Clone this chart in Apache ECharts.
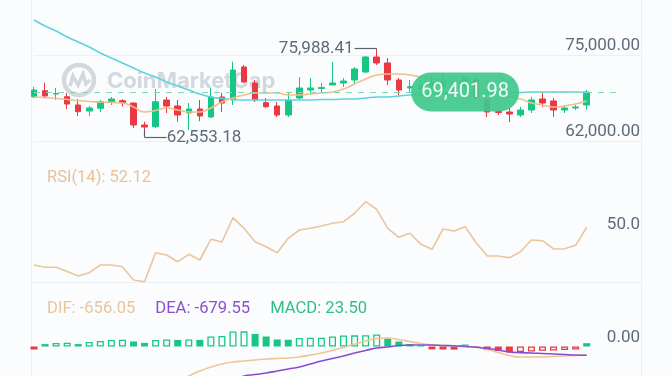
<!DOCTYPE html>
<html>
<head>
<meta charset="utf-8">
<script src="https://cdn.jsdelivr.net/npm/echarts@6/dist/echarts.min.js"></script>
<style>
  html, body { margin: 0; padding: 0; background: #fbfcfd; }
  #main { width: 672px; height: 376px; }
</style>
</head>
<body>
<div id="main"></div>
<script>
// candles (open, close, low, high)
var opens  = [68697, 69603, 69105, 68697, 67442, 66535, 66943, 67942, 68092, 67744, 64419, 64162, 68198, 67291, 66233, 66837, 65628, 68651, 68198, 73186, 70767, 67790, 67291, 65930, 68500, 69709, 69930, 70465, 70767, 71221, 72430, 74698, 73791, 71221, 70012, 69860, 70163, 70012, 70465, 70314, 71221, 68198, 66460, 66384, 65930, 66686, 68349, 68047, 66686, 66989, 67442];
var closes = [69709, 68802, 69180, 67593, 66430, 66989, 67942, 68349, 67790, 64419, 64116, 67942, 67291, 65930, 66837, 65779, 68651, 67744, 72733, 70919, 68198, 67185, 65930, 68198, 70012, 70012, 70090, 70767, 71070, 72884, 74698, 73791, 71221, 69709, 70208, 70465, 70767, 71221, 70919, 71523, 68651, 66384, 66310, 66082, 66686, 68198, 67744, 66686, 66989, 67140, 69401.98];
var lows   = [68500, 68455, 68198, 66837, 65779, 65779, 66384, 67442, 67185, 63965, 63660, 63965, 66233, 64918, 63663, 65000, 65477, 66384, 67442, 70767, 67895, 66989, 65628, 65628, 68198, 68954, 69256, 70465, 70163, 70767, 72279, 73488, 70465, 68954, 69256, 69256, 69407, 69256, 69558, 69860, 68349, 65628, 65930, 64872, 65628, 66233, 67140, 65628, 66233, 66686, 66686];
var highs  = [70163, 70813, 70012, 69256, 68349, 67291, 68198, 68651, 68349, 67800, 64918, 69860, 68651, 68198, 67744, 68198, 70012, 69256, 73987, 73488, 71221, 68500, 67895, 69407, 71674, 71523, 70767, 73942, 71523, 73186, 74849, 75988.41, 74547, 71523, 71221, 71221, 71826, 72279, 71674, 71826, 71523, 68500, 66989, 66989, 67140, 68651, 69256, 68500, 67442, 67442, 69709];

// moving averages
var maFast = [68651, 68576, 68425, 68273, 68122, 67971, 67895, 67820, 67744, 67140, 66384, 66611, 66989, 66686, 66384, 66384, 66989, 67895, 68500, 68954, 69256, 69256, 69256, 68954, 68954, 69105, 69256, 69407, 69860, 70616, 71372, 71977, 72128, 72128, 71977, 71674, 71372, 71070, 70919, 70616, 70163, 69558, 68954, 68651, 68349, 67744, 67442, 67140, 67291, 67593, 68047];
var maSlow = [80291, 79384, 78628, 77721, 76965, 76209, 75302, 74547, 73791, 73035, 72279, 71674, 70919, 70314, 69709, 69105, 68651, 68425, 68273, 68198, 68198, 68198, 68198, 68198, 68198, 68198, 68273, 68273, 68349, 68349, 68500, 68651, 68651, 68802, 68954, 68954, 69105, 69105, 69180, 69180, 69256, 69256, 69331, 69331, 69331, 69407, 69407, 69407, 69407, 69407, 69331];

// RSI(14)
var rsi = [38.15, 37.3, 37.3, 35.74, 34.07, 35.3, 38.15, 38.15, 37.52, 32.59, 31.96, 42.7, 41.85, 39.37, 42.11, 40.0, 47.67, 46.67, 55.67, 51.74, 46.78, 44.93, 42.7, 48.04, 51.11, 51.74, 52.59, 53.59, 54.19, 57.3, 61.59, 58.78, 51.74, 48.41, 49.89, 45.81, 43.96, 51.48, 50.74, 52.33, 46.41, 41.48, 41.48, 40.85, 43.07, 47.41, 47.15, 44.07, 44.19, 45.44, 52.12];

// MACD
var dif = [-5674, -5520, -5365, -5211, -5056, -4825, -4593, -4362, -4130, -3899, -3667, -3435, -3127, -2741, -2277, -1891, -1583, -1351, -1197, -1120, -1042, -965, -926, -888, -811, -656, -502, -309, -77, 193, 425, 618, 656, 540, 386, 232, 116, 77, 39, 0, -39, -232, -463, -695, -811, -811, -811, -772, -733, -695, -656.05];
var dea = [-7218, -7064, -6909, -6755, -6523, -6292, -6060, -5829, -5597, -5365, -5056, -4748, -4439, -4130, -3821, -3513, -3204, -2895, -2586, -2277, -2162, -2046, -1891, -1737, -1583, -1351, -1119, -926, -733, -502, -309, -116, -39, 77, 116, 116, 116, 77, 62, 0, -62, -154, -270, -425, -479, -502, -540, -579, -618, -656, -679.55];
var hist = [-21, 17, 25, 26, 17, 32, 39, 46, 47, 35, 25, 46, 49, 46, 49, 46, 70, 74, 105, 106, 88, 70, 49, 47, 60, 61, 62, 70, 77, 78, 79, 84, 56, 35, 17, 7, -20, -21, -22, 14, -5, -25, -32, -42, -39, -35, -30, -28, -25, -21, 23.5];

var lastPrice = 69401.98;
var highMark = 75988.41;
var lowMark = 62553.18;
var priceTicks = [62000, 75000];

var UP = '#16c784', DOWN = '#ea3943', BG = '#fbfcfd', GRID = '#eceff3', AXIS = '#5f6b7a';
var FONT = 'Roboto, sans-serif';

var categories = [];
for (var i = 0; i < opens.length + 5; i++) categories.push(String(i + 1));

var candles = opens.map(function (o, i) { return [o, closes[i], lows[i], highs[i]]; });
var hiIdx = highs.indexOf(highMark);
var loIdx = lows.indexOf(Math.min.apply(null, lows));

function fmt(v, d) {
    return v.toLocaleString('en-US', {minimumFractionDigits: d, maximumFractionDigits: d});
}

var histData = hist.map(function (v, i) {
    var prev = hist[i - 1];
    var c = v >= 0 ? UP : DOWN;
    var hollow = i > 0 && prev * v > 0 && v > prev;
    return {
        value: v,
        itemStyle: hollow ? {color: BG, borderColor: c, borderWidth: 1.3} : {color: c, borderWidth: 0}
    };
});

var myChart = echarts.init(document.getElementById('main'));

var xCommon = {type: 'category', data: categories, boundaryGap: false, show: false};
var step = priceTicks[1] - priceTicks[0];
// price grid: 0..227px, ticks fall on 62,000 (y 141) and 75,000 (y 55)
var priceMin = priceTicks[0] - step;
var priceMax = priceMin + 227 * step / 86;

var option = {
    backgroundColor: BG,
    animation: false,
    textStyle: {fontFamily: FONT},
    title: [{
        text: 'RSI(14): ' + fmt(rsi[rsi.length - 1], 2),
        left: 42, top: 164,
        textStyle: {color: '#e6c29c', fontSize: 16.5, fontWeight: 'normal', fontFamily: FONT}
    }, {
        text: '{a|DIF: ' + fmt(dif[dif.length - 1], 2) + '}{b|DEA: ' + fmt(dea[dea.length - 1], 2) + '}{c|MACD: ' + fmt(hist[hist.length - 1], 2) + '}',
        left: 42, top: 295,
        textStyle: {
            fontSize: 16.6, fontWeight: 'normal',
            rich: {
                a: {color: '#eac59c', fontSize: 16.6, fontFamily: FONT},
                b: {color: '#8c4fcf', fontSize: 16.6, fontFamily: FONT, padding: [0, 0, 0, 20]},
                c: {color: '#2fbf86', fontSize: 16.6, fontFamily: FONT, padding: [0, 0, 0, 20]}
            }
        }
    }],
    graphic: [
        {type: 'line', z: 0, shape: {x1: 31.5, y1: 0, x2: 31.5, y2: 376}, style: {stroke: GRID, lineWidth: 1}},
        {type: 'line', z: 0, shape: {x1: 641.5, y1: 0, x2: 641.5, y2: 376}, style: {stroke: GRID, lineWidth: 1}},
        {type: 'line', z: 0, shape: {x1: 31.5, y1: 282.5, x2: 641.5, y2: 282.5}, style: {stroke: GRID, lineWidth: 1}},
        // watermark
        {type: 'group', z: 0, silent: true, children: [
            {type: 'circle', shape: {cx: 79, cy: 80, r: 15}, style: {fill: 'none', stroke: '#d3d8de', lineWidth: 4.5}},
            {type: 'polyline', shape: {points: [[70, 86], [73, 76], [78, 85], [83, 74], [86, 84], [90, 80]]},
                style: {fill: 'none', stroke: '#d3d8de', lineWidth: 3.5}},
            {type: 'text', x: 107, y: 81, style: {text: 'CoinMarketCap', fill: '#d3d8de', fontSize: 22,
                fontWeight: 'bold', fontFamily: 'Inter, sans-serif', verticalAlign: 'middle'}}
        ]}
    ],
    grid: [
        {left: 34, right: 30, top: 0, height: 227},
        {left: 34, right: 30, top: 152, height: 135},
        {left: 34, right: 30, top: 294.7, height: 77.7}
    ],
    xAxis: [
        Object.assign({gridIndex: 0}, xCommon),
        Object.assign({gridIndex: 1}, xCommon),
        Object.assign({gridIndex: 2}, xCommon)
    ],
    yAxis: [{
        gridIndex: 0, position: 'right',
        min: priceMin, max: priceMax, interval: step,
        axisLine: {show: false}, axisTick: {show: false},
        splitLine: {showMinLine: false, showMaxLine: false, lineStyle: {color: GRID, width: 1}},
        axisLabel: {inside: true, margin: 2, verticalAlign: 'bottom', padding: [0, 0, 1, 0],
            showMinLabel: false, showMaxLabel: false,
            color: AXIS, fontSize: 17, fontFamily: FONT,
            formatter: function (v) { return priceTicks.indexOf(v) >= 0 ? fmt(v, 2) : ''; }}
    }, {
        gridIndex: 1, position: 'right', min: 30, max: 80, interval: 20,
        axisLine: {show: false}, axisTick: {show: false}, splitLine: {show: false},
        axisLabel: {inside: true, margin: 2, verticalAlign: 'bottom', padding: [0, 0, 0, 0],
            color: AXIS, fontSize: 17, fontFamily: FONT,
            formatter: function (v) { return v === 50 ? '50.0' : ''; }}
    }, {
        gridIndex: 2, position: 'right', min: -2000, max: 4000, interval: 1000,
        axisLine: {show: false}, axisTick: {show: false}, splitLine: {show: false},
        axisLabel: {inside: true, margin: 2, verticalAlign: 'bottom', padding: [0, 0, 0, 0],
            color: AXIS, fontSize: 17, fontFamily: FONT,
            formatter: function (v) { return v === 0 ? '0.00' : ''; }}
    }, {
        gridIndex: 2, position: 'right', min: -181.3, max: 362.6, show: false
    }],
    series: [{
        name: 'MA slow', type: 'line', xAxisIndex: 0, yAxisIndex: 0, data: maSlow,
        showSymbol: false, clip: false, smooth: true,
        lineStyle: {color: '#5dd3e2', width: 1.6}
    }, {
        name: 'MA fast', type: 'line', xAxisIndex: 0, yAxisIndex: 0, data: maFast,
        showSymbol: false, clip: false, smooth: true,
        lineStyle: {color: '#efbf8c', width: 1.6}
    }, {
        name: 'BTC', type: 'candlestick', xAxisIndex: 0, yAxisIndex: 0, data: candles,
        barWidth: 6, clip: false,
        itemStyle: {color: UP, color0: DOWN, borderColor: UP, borderColor0: DOWN, borderWidth: 1},
        markLine: {
            symbol: ['none', 'none'], silent: true, animation: false,
            data: [
                [{coord: [0, lastPrice], lineStyle: {color: '#7fd8b0', type: [6, 6], width: 1.2}, label: {show: false}},
                 {coord: [53, lastPrice]}],
                [{coord: [hiIdx - 2.5, highMark], lineStyle: {color: '#59636f', type: 'solid', width: 1.2},
                    label: {show: true, position: 'start', distance: 1, formatter: fmt(highMark, 2), color: AXIS, fontSize: 17, fontFamily: FONT}},
                 {coord: [hiIdx, highMark]}],
                [{coord: [loIdx, lows[loIdx]], lineStyle: {color: '#59636f', type: 'solid', width: 1.2}, label: {show: false}},
                 {coord: [loIdx, lowMark]}],
                [{coord: [loIdx, lowMark], lineStyle: {color: '#59636f', type: 'solid', width: 1.2},
                    label: {show: true, position: 'end', distance: 0, formatter: fmt(lowMark, 2), color: AXIS, fontSize: 17, fontFamily: FONT}},
                 {coord: [loIdx + 2.3, lowMark]}]
            ]
        },
        markPoint: {
            silent: true, animation: false,
            data: [{
                coord: [39, lastPrice],
                symbol: 'path://M20,0 H88 A20,20 0 0 1 88,40 H20 A20,20 0 0 1 20,0 Z',
                symbolSize: [108, 39],
                symbolKeepAspect: false,
                itemStyle: {color: '#3fc88c', opacity: 0.92},
                label: {show: true, position: 'inside', formatter: fmt(lastPrice, 2),
                    color: '#ffffff', fontSize: 20, fontFamily: FONT}
            }]
        }
    }, {
        name: 'RSI', type: 'line', xAxisIndex: 1, yAxisIndex: 1, data: rsi,
        showSymbol: false, lineStyle: {color: '#ebc59b', width: 1.6}
    }, {
        name: 'MACD', type: 'bar', xAxisIndex: 2, yAxisIndex: 3, data: histData,
        barWidth: 7
    }, {
        name: 'DIF', type: 'line', xAxisIndex: 2, yAxisIndex: 2, data: dif, clip: false,
        showSymbol: false, smooth: true, lineStyle: {color: '#efc596', width: 1.6}
    }, {
        name: 'DEA', type: 'line', xAxisIndex: 2, yAxisIndex: 2, data: dea, clip: false,
        showSymbol: false, smooth: true, lineStyle: {color: '#8a4ccf', width: 1.6}
    }]
};

myChart.setOption(option);
</script>
</body>
</html>
